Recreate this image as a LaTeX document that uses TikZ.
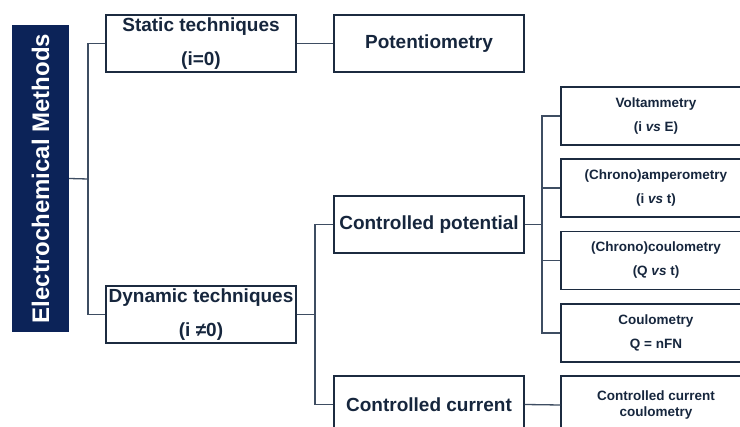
\documentclass[tikz,border=0pt]{standalone}
\usepackage{fontspec}
\setmainfont{Liberation Sans}
\usepackage{graphicx}
\definecolor{navy}{HTML}{0C2358}
\definecolor{boxline}{HTML}{1C2B40}
\definecolor{wire}{HTML}{3E4D62}
\definecolor{ink}{HTML}{16263D}
\begin{document}
\begin{tikzpicture}[x=1pt,y=-1pt,
  box/.style={draw=boxline, line width=1.3pt, fill=white, text=ink, align=center,
    minimum width=190pt, minimum height=57pt, inner sep=0pt, font=\bfseries\fontsize{19}{34}\selectfont},
  leaf/.style={box, minimum height=58pt, font=\bfseries\fontsize{13.5}{24}\selectfont},
  wire/.style={draw=wire, line width=1.3pt}]
\clip (0,0) rectangle (740,427);
\fill[white] (0,0) rectangle (740,427);
\node[fill=navy, text=white, minimum width=57pt, minimum height=307pt, inner sep=0pt,
  font=\bfseries\fontsize{24}{28}\selectfont] (root) at (40.5,178.5) {\rotatebox{90}{Electrochemical Methods}};
\node[box] (static) at (201,43.5) {Static techniques\\(i=0)};
\node[box] (dyn) at (201,314.5) {Dynamic techniques\\(i ≠0)};
\node[box] (pot) at (429,43.5) {Potentiometry};
\node[box] (cpot) at (429,224.5) {Controlled potential};
\node[box] (ccur) at (429,404.5) {Controlled current};
\node[leaf] (volt) at (656,116) {Voltammetry\\(i \textit{vs} E)};
\node[leaf] (amp) at (656,188) {(Chrono)amperometry\\(i \textit{vs} t)};
\node[leaf] (ccoul) at (656,260.5) {(Chrono)coulometry\\(Q \textit{vs} t)};
\node[leaf] (coul) at (656,333) {Coulometry\\Q = nFN};
\node[leaf, font=\bfseries\fontsize{13.5}{16}\selectfont] (ccc) at (656,405) {Controlled current\\coulometry};
\coordinate (b1) at (88,179);
\coordinate (b2) at (315,314.5);
\coordinate (b3) at (542,224.5);
\draw[wire] (root.east) -- (b1);
\draw[wire] (static.west) -| (b1) |- (dyn.west);
\draw[wire] (static.east) -- (pot.west);
\draw[wire] (dyn.east) -- (b2);
\draw[wire] (cpot.west) -| (b2) |- (ccur.west);
\draw[wire] (cpot.east) -- (b3);
\draw[wire] (volt.west) -| (b3) |- (coul.west);
\draw[wire] (amp.west) -- (amp.west -| b3);
\draw[wire] (ccoul.west) -- (ccoul.west -| b3);
\draw[wire] (ccur.east) -- (ccc.west);
\end{tikzpicture}
\end{document}
